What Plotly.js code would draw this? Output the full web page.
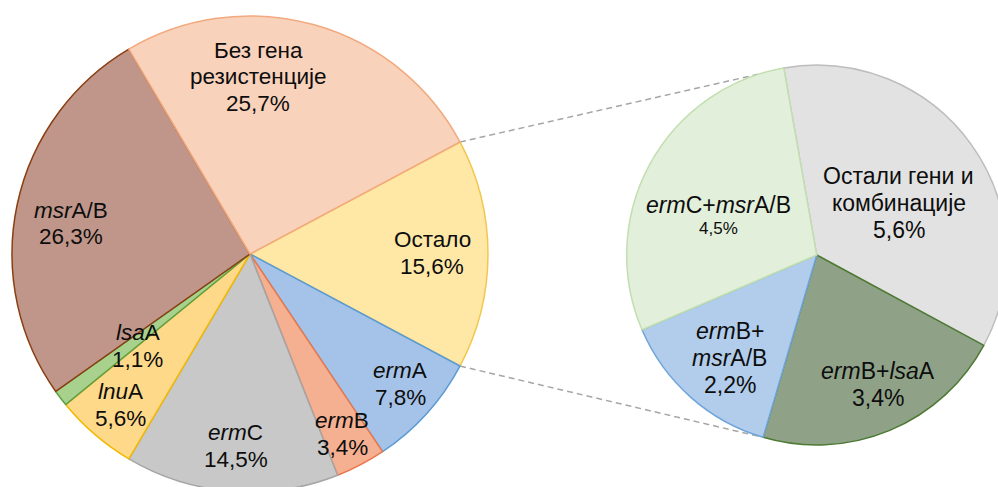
<!DOCTYPE html>
<html><head><meta charset="utf-8">
<script src="https://cdn.plot.ly/plotly-3.0.1.min.js"></script>
<style>html,body{margin:0;padding:0;overflow:hidden;background:#fff}#chart{width:1010px;height:500px}</style>
</head><body><div id="chart"></div>
<script>
// ---- data ----
const mainCategories = ['Остало', '<i>erm</i>A', '<i>erm</i>B', '<i>erm</i>C', '<i>lnu</i>A', '<i>lsa</i>A', '<i>msr</i>A/B', 'Без гена<br>резистенције'];
const mainValues = [15.6, 7.8, 3.4, 14.5, 5.6, 1.1, 26.3, 25.7];
const secCategories = ['Остали гени и<br>комбинације', '<i>erm</i>B+<i>lsa</i>A', '<i>erm</i>B+<br><i>msr</i>A/B', '<i>erm</i>C+<i>msr</i>A/B'];
const secValues = [5.6, 3.4, 2.2, 4.5];

// ---- styles ----
const mainFill = ['#FFE8A6', '#A5C3E8', '#F5B092', '#C8C8C8', '#FFD98A', '#A8D18D', '#C0968A', '#F9D2BB'];
const mainLine = ['#F2C74E', '#5B9BD5', '#E9784A', '#A5A5A5', '#F2B800', '#5FA043', '#8A3F12', '#F2A97E'];
const secFill = ['#E2E2E2', '#8FA288', '#B2CDEB', '#E2EFDA'];
const secLine = ['#BDBDBD', '#4E7A33', '#6FA5D9', '#C2DFB0'];

// label placement: [angle clockwise from 12 o'clock (deg), radius fraction]
const mainLabelPolar = [[89.7, 0.765], [130.9, 0.834], [152.9, 0.849], [184.2, 0.809], [220.7, 0.837], [230.6, 0.609], [279.7, 0.763], [2.6, 0.745]];
const secLabelPolar = [[57.7, 0.51], [154.7, 0.754], [220.1, 0.709], [292.3, 0.556]];
const secPctSize = [23, 23, 23, 17];

const W = 1010, H = 500;
const M = {cx: 250, cy: 254, r: 238};
const S = {cx: 816.7, cy: 255, r: 190};

const FONT = 'Arial, "Liberation Sans", sans-serif';
const fmt = v => v.toFixed(1).replace('.', ',') + '%';
const sum = a => a.reduce((s, v) => s + v, 0);

const mainTotal = sum(mainValues);
const mainRotation = 90 - 360 * mainValues[0] / mainTotal / 2;
const secRotation = -10;

function dom(P) {
  return {x: [(P.cx - P.r) / W, (P.cx + P.r) / W], y: [(H - (P.cy + P.r)) / H, (H - (P.cy - P.r)) / H]};
}
function pt(P, angDeg, rf) {
  const a = angDeg * Math.PI / 180;
  return [P.cx + P.r * rf * Math.sin(a), P.cy - P.r * rf * Math.cos(a)];
}

const traces = [
  {type: 'pie', values: mainValues, labels: mainCategories, sort: false, direction: 'clockwise',
   rotation: mainRotation, domain: dom(M), textinfo: 'none', hoverinfo: 'none', showlegend: false,
   marker: {colors: mainFill, line: {color: mainLine, width: 1.5}}},
  {type: 'pie', values: secValues, labels: secCategories, sort: false, direction: 'clockwise',
   rotation: secRotation, domain: dom(S), textinfo: 'none', hoverinfo: 'none', showlegend: false,
   marker: {colors: secFill, line: {color: secLine, width: 1.5}}}
];

const annotations = [];
function addLabel(P, polar, name, pctText, nameSize, pctSize) {
  const [x, y] = pt(P, polar[0], polar[1]);
  const lines = name.split('<br>').map(t => ({t, s: nameSize}));
  lines.push({t: pctText, s: pctSize});
  const hs = lines.map(l => l.s * 1.17);
  const T = sum(hs);
  let acc = y - T / 2;
  lines.forEach((l, j) => {
    const yy = acc + hs[j] / 2;
    acc += hs[j];
    annotations.push({xref: 'paper', yref: 'paper', x: x / W, y: 1 - yy / H, text: l.t, showarrow: false,
      xanchor: 'center', yanchor: 'middle', font: {family: FONT, size: l.s, color: '#0d0d0d'}});
  });
}
mainCategories.forEach((c, i) => addLabel(M, mainLabelPolar[i], c, fmt(mainValues[i]), 22.5, 22.5));
secCategories.forEach((c, i) => addLabel(S, secLabelPolar[i], c, fmt(secValues[i]), 23, secPctSize[i]));

// connector lines from "Остало" slice edges to the secondary pie
const oStart = mainRotation, oEnd = mainRotation + 360 * mainValues[0] / mainTotal;
const secTopAng = -18, secBotAng = 196;
const conn = [[pt(M, oStart, 1), pt(S, secTopAng, 1)], [pt(M, oEnd, 1), pt(S, secBotAng, 1)]];
const shapes = conn.map(([a, b]) => ({type: 'line', xref: 'paper', yref: 'paper', layer: 'below',
  x0: a[0] / W, y0: 1 - a[1] / H, x1: b[0] / W, y1: 1 - b[1] / H,
  line: {color: '#A6A6A6', width: 1.5, dash: '6px,4px'}}));

Plotly.newPlot('chart', traces, {
  width: W, height: H, margin: {l: 0, r: 0, t: 0, b: 0},
  paper_bgcolor: '#fff', plot_bgcolor: '#fff', showlegend: false,
  annotations, shapes, font: {family: FONT}
}, {staticPlot: true});
</script></body></html>
